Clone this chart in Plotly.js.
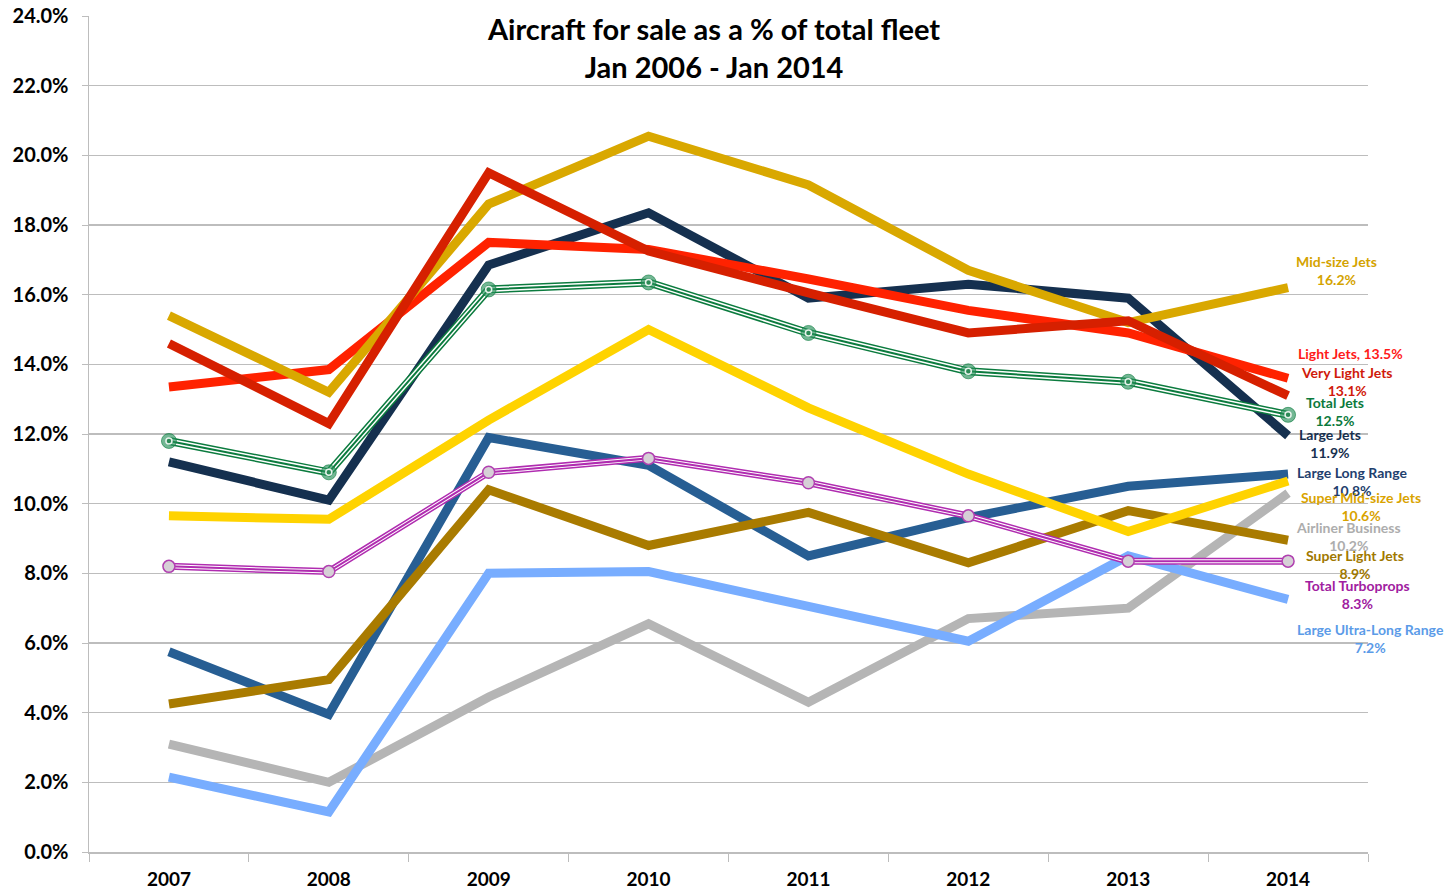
<!DOCTYPE html>
<html>
<head>
<meta charset="utf-8">
<script src="https://cdn.plot.ly/plotly-3.0.1.min.js"></script>
<style>
html,body{margin:0;padding:0;background:#fff;}
#chart{width:1449px;height:891px;}
</style>
</head>
<body>
<div id="chart"></div>
<script>
const years = ["2007","2008","2009","2010","2011","2012","2013","2014"];

const midSizeJets      = [15.4, 13.2, 18.6, 20.55, 19.15, 16.7, 15.2, 16.2];
const lightJets        = [13.35, 13.85, 17.5, 17.3, 16.45, 15.55, 14.9, 13.6];
const veryLightJets    = [14.6, 12.3, 19.5, 17.25, 16.05, 14.9, 15.25, 13.1];
const largeJets        = [11.2, 10.1, 16.85, 18.35, 15.9, 16.3, 15.9, 11.95];
const totalJets        = [11.8, 10.9, 16.15, 16.35, 14.9, 13.8, 13.5, 12.55];
const superMidSizeJets = [9.65, 9.55, 12.4, 15.0, 12.75, 10.85, 9.2, 10.65];
const totalTurboprops  = [8.2, 8.05, 10.9, 11.3, 10.6, 9.65, 8.35, 8.35];
const largeLongRange   = [5.75, 3.95, 11.9, 11.1, 8.5, 9.6, 10.5, 10.85];
const superLightJets   = [4.25, 4.95, 10.4, 8.8, 9.75, 8.3, 9.8, 8.95];
const ultraLongRange   = [2.15, 1.15, 8.0, 8.05, 7.05, 6.05, 8.5, 7.25];
const airlinerBusiness = [3.1, 2.0, 4.45, 6.55, 4.3, 6.7, 7.0, 10.3];

// end-of-line labels: x in paper fraction, y in data units
const endLabels = [
  {text:"Mid-size Jets<br>16.2%", color:"#D4A300", x:0.9757, y:16.7},
  {text:"Light Jets, 13.5%", color:"#FF1A1A", x:0.9867, y:14.3},
  {text:"Very Light Jets<br>13.1%", color:"#D01A0A", x:0.9836, y:13.5},
  {text:"Total Jets<br>12.5%", color:"#0B7A3C", x:0.9742, y:12.65},
  {text:"Large Jets<br>11.9%", color:"#17304F", x:0.9703, y:11.72},
  {text:"Large Long Range<br>10.8%", color:"#1F3F6E", x:0.9875, y:10.65},
  {text:"Super Mid-size Jets<br>10.6%", color:"#D9A300", x:0.9945, y:9.92},
  {text:"Airliner Business<br>10.2%", color:"#ADADAD", x:0.9844, y:9.05},
  {text:"Super Light Jets<br>8.9%", color:"#A07800", x:0.9898, y:8.25},
  {text:"Total Turboprops<br>8.3%", color:"#A020A0", x:0.9914, y:7.4},
  {text:"Large Ultra-Long Range<br>7.2%", color:"#5B9BE8", x:1.0023, y:6.13}
];

const F = "Lato, 'Open Sans', sans-serif";
const W = 9;

function line(y, color, width, name){
  return {x: years, y: y, type:"scatter", mode:"lines", name:name,
    line:{color:color, width:width, shape:"linear"}, hoverinfo:"skip", showlegend:false};
}

const traces = [
  line(airlinerBusiness, "#B5B5B5", W, "Airliner Business"),
  line(ultraLongRange, "#78ADFF", W, "Large Ultra-Long Range"),
  line(largeLongRange, "#275E93", W, "Large Long Range"),
  line(superLightJets, "#A97B00", W, "Super Light Jets"),
  line(superMidSizeJets, "#FFD300", W, "Super Mid-size Jets"),
  line(largeJets, "#15304F", W, "Large Jets"),
  line(lightJets, "#FF2200", W, "Light Jets"),
  line(midSizeJets, "#D9A800", W, "Mid-size Jets"),
  line(veryLightJets, "#D62000", W, "Very Light Jets"),
  // Total Jets double line
  line(totalJets, "#0B7B3E", 8, "Total Jets"),
  line(totalJets, "#FFFFFF", 5, "Total Jets"),
  {x: years, y: totalJets, type:"scatter", mode:"lines+markers", showlegend:false, hoverinfo:"skip",
    line:{color:"#0B7B3E", width:2},
    marker:{symbol:"circle", size:15, color:"rgba(40,145,90,0.65)", line:{color:"rgba(11,123,62,0.6)", width:1}}},
  {x: years, y: totalJets, type:"scatter", mode:"markers", showlegend:false, hoverinfo:"skip",
    marker:{symbol:"circle", size:6, color:"#2A8A55", line:{color:"#E8F2EC", width:1.5}}},
  // Total Turboprops double line
  line(totalTurboprops, "#B02CB0", 7, "Total Turboprops"),
  line(totalTurboprops, "#FFFFFF", 4, "Total Turboprops"),
  {x: years, y: totalTurboprops, type:"scatter", mode:"lines+markers", showlegend:false, hoverinfo:"skip",
    line:{color:"#B02CB0", width:2},
    marker:{symbol:"circle", size:12, color:"#D6D0D6", line:{color:"#B040B0", width:1.5}}}
];

const annotations = endLabels.map(l => ({
  text:"<b>"+l.text+"</b>", x:l.x, y:l.y, xref:"paper", yref:"y", showarrow:false,
  xanchor:"center", yanchor:"middle", align:"center",
  font:{family:F, size:14, color:l.color}
}));
annotations.push({
  text:"<b>Aircraft for sale as a % of total fleet<br>Jan 2006 - Jan 2014</b>",
  xref:"paper", yref:"paper", x:0.488, y:1.008, xanchor:"center", yanchor:"top",
  showarrow:false, align:"center", font:{family:F, size:29, color:"#000"}
});

const layout = {
  width:1449, height:891,
  margin:{l:89, r:81, t:16, b:39, pad:0},
  paper_bgcolor:"#fff", plot_bgcolor:"#fff",
  showlegend:false,
  font:{family:F},
  xaxis:{type:"category", range:[-0.5,7.5], showgrid:false, zeroline:false,
    showline:true, linecolor:"#BDBDBD", linewidth:1.5,
    ticks:"outside", tickson:"boundaries", ticklen:8, tickcolor:"#BDBDBD",
    ticklabelstandoff:10,
    tickfont:{family:F, size:19, color:"#000", weight:"bold"}},
  yaxis:{range:[0,24], dtick:2, tickformat:".1f", ticksuffix:"%",
    showgrid:true, gridcolor:"#BDBDBD", gridwidth:1.3, zeroline:false,
    showline:true, linecolor:"#BDBDBD", linewidth:1.5,
    ticks:"outside", ticklen:6, tickcolor:"#BDBDBD",
    ticklabelstandoff:9,
    tickfont:{family:F, size:20, color:"#000", weight:"bold"}},
  annotations: annotations
};

Plotly.newPlot("chart", traces, layout, {displayModeBar:false, staticPlot:true});
</script>
</body>
</html>
